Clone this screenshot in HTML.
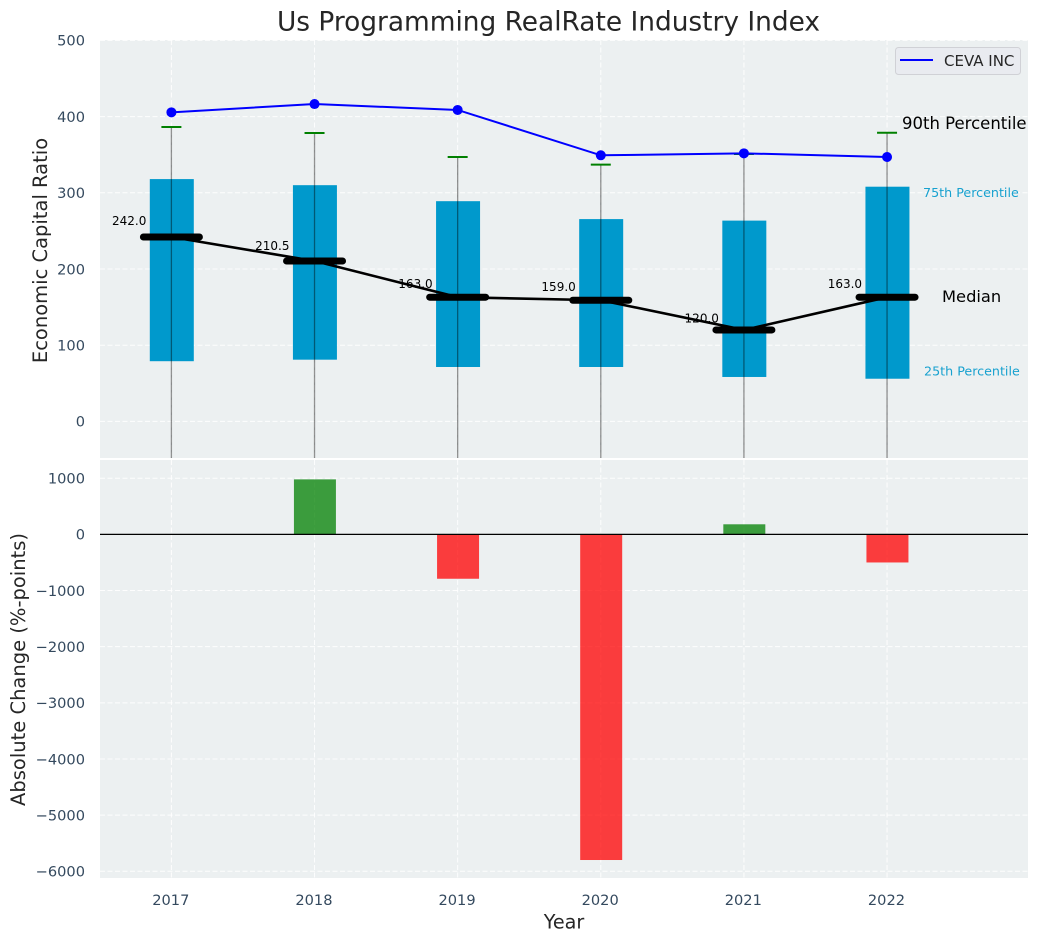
<!DOCTYPE html>
<html lang="en">
<head>
<meta charset="utf-8">
<title>Us Programming RealRate Industry Index</title>
<style>
  html, body { margin: 0; padding: 0; background: #ffffff; }
  svg { display: block; font-family: "DejaVu Sans", "Liberation Sans", sans-serif; }
</style>
</head>
<body>
<svg id="chart" xmlns="http://www.w3.org/2000/svg" width="1039" height="942" viewBox="0 0 1039 942">
  <defs>
    <clipPath id="clip-top"><rect x="100" y="40" width="928" height="418"></rect></clipPath>
    <clipPath id="clip-bottom"><rect x="100" y="460" width="928" height="418"></rect></clipPath>
  </defs>
  <rect x="100" y="40" width="928" height="418" fill="#ecf0f1"></rect>
  <rect x="100" y="460" width="928" height="418" fill="#ecf0f1"></rect>
  <g id="top-grid"></g>
  <g id="bottom-grid"></g>
  <g id="top-marks" clip-path="url(#clip-top)"></g>
  <g id="bottom-marks" clip-path="url(#clip-bottom)"></g>
  <g id="tick-labels"></g>
  <g id="annotations"></g>
  <text x="548.5" y="30.5" text-anchor="middle" font-size="26.4" fill="#262626">Us Programming RealRate Industry Index</text>
  <text transform="translate(47,250.5) rotate(-90)" text-anchor="middle" font-size="19.5" fill="#262626">Economic Capital Ratio</text>
  <text transform="translate(25,669.5) rotate(-90)" text-anchor="middle" font-size="19.5" fill="#262626">Absolute Change (%-points)</text>
  <text x="564" y="928.5" text-anchor="middle" font-size="19.2" fill="#262626">Year</text>
  <g>
    <rect x="895.5" y="47.5" width="125" height="27" rx="3" fill="#e9ebf0" stroke="#d0d1d6" stroke-width="1"></rect>
    <line x1="900" x2="933" y1="60" y2="60" stroke="#0000ff" stroke-width="2"></line>
    <text x="944" y="66" font-size="15" fill="#262626">CEVA INC</text>
  </g>
</svg>
<script>
const years = [2017, 2018, 2019, 2020, 2021, 2022];
const p10 = [-60, -60, -60, -60, -60, -60];
const p25 = [79, 81, 71.4, 71.4, 58.3, 56];
const median = [242.0, 210.5, 163.0, 159.0, 120.0, 163.0];
const p75 = [318, 310, 289, 265.5, 263.5, 308];
const p90 = [386.4, 378.5, 347, 337, 351, 378.8];
const cevaInc = [405.6, 416.5, 408.7, 349.2, 351.8, 347];
const absoluteChange = [0, 980, -790, -5800, 180, -500];
const topTicks = [0, 100, 200, 300, 400, 500];
const bottomTicks = [1000, 0, -1000, -2000, -3000, -4000, -5000, -6000];

const NS = 'http://www.w3.org/2000/svg';
const x = function (year) { return 171.4 + (year - 2017) * 143.13; };
const yTop = function (v) { return 421.4 - v * 0.762; };
const yBottom = function (v) { return 534.4 - v * 0.05614; };

function mk(tag, attrs, parent) {
  const el = document.createElementNS(NS, tag);
  Object.keys(attrs).forEach(function (k) { el.setAttribute(k, attrs[k]); });
  parent.appendChild(el);
  return el;
}

const topGrid = document.getElementById('top-grid');
const bottomGrid = document.getElementById('bottom-grid');
const topMarks = document.getElementById('top-marks');
const bottomMarks = document.getElementById('bottom-marks');
const tickLabels = document.getElementById('tick-labels');
const annotations = document.getElementById('annotations');
const gridStyle = { stroke: '#ffffff', 'stroke-width': 1, 'stroke-dasharray': '5 2.5', opacity: 0.9 };

topTicks.forEach(function (t) {
  const g = mk('line', Object.assign({ x1: 100, x2: 1028, y1: yTop(t), y2: yTop(t) }, gridStyle), topGrid);
  
  
  const label = mk('text', { x: 85, y: yTop(t) + 5.3, 'text-anchor': 'end', 'font-size': 14.6, fill: '#34495e' }, tickLabels);
  
  
  label.textContent = String(t);
});

bottomTicks.forEach(function (t) {
  const g = mk('line', Object.assign({ x1: 100, x2: 1028, y1: yBottom(t), y2: yBottom(t) }, gridStyle), bottomGrid);
  
  
  const label = mk('text', { x: 85, y: yBottom(t) + 5.3, 'text-anchor': 'end', 'font-size': 14.6, fill: '#34495e' }, tickLabels);
  
  
  label.textContent = String(t).replace('-', '\u2212');
});

years.forEach(function (yr) {
  const a = mk('line', Object.assign({ x1: x(yr), x2: x(yr), y1: 40, y2: 458 }, gridStyle), topGrid);
  
  
  const b = mk('line', Object.assign({ x1: x(yr), x2: x(yr), y1: 460, y2: 878 }, gridStyle), bottomGrid);
  
  
  const label = mk('text', { x: x(yr) - 0.6, y: 905, 'text-anchor': 'middle', 'font-size': 14.6, fill: '#34495e' }, tickLabels);
  
  
  label.textContent = String(yr);
});

years.forEach(function (yr, i) {
  const box = mk('rect', {
    x: x(yr) - 21.6,
    y: yTop(p75[i]),
    width: 44,
    height: yTop(p25[i]) - yTop(p75[i]),
    fill: '#0099cc'
  }, topMarks);
  
  
});

years.forEach(function (yr, i) {
  const whisker = mk('line', {
    x1: x(yr), x2: x(yr), y1: yTop(p90[i]), y2: yTop(p10[i]),
    stroke: '#000000', 'stroke-width': 1.3, opacity: 0.42
  }, topMarks);
  
  
  const cap = mk('line', {
    x1: x(yr) - 10, x2: x(yr) + 10, y1: yTop(p90[i]), y2: yTop(p90[i]),
    stroke: '#008000', 'stroke-width': 2
  }, topMarks);
  
  
});

const medianLine = mk('polyline', {
  points: years.map(function (yr, i) { return x(yr) + ',' + yTop(median[i]); }).join(' '),
  fill: 'none', stroke: '#000000', 'stroke-width': 2.6
}, topMarks);



years.forEach(function (yr, i) {
  const bar = mk('line', {
    x1: x(yr) - 28, x2: x(yr) + 28, y1: yTop(median[i]), y2: yTop(median[i]),
    stroke: '#000000', 'stroke-width': 7, 'stroke-linecap': 'round'
  }, topMarks);
  
  
  const label = mk('text', {
    x: x(yr) - 25, y: yTop(median[i] * 1.05) - 3, 'text-anchor': 'end', 'font-size': 12, fill: '#000000'
  }, topMarks);
  
  
  label.textContent = median[i].toFixed(1);
});

const cevaLine = mk('polyline', {
  points: years.map(function (yr, i) { return x(yr) + ',' + yTop(cevaInc[i]); }).join(' '),
  fill: 'none', stroke: '#0000ff', 'stroke-width': 2
}, topMarks);



years.forEach(function (yr, i) {
  const dot = mk('circle', { cx: x(yr), cy: yTop(cevaInc[i]), r: 5, fill: '#0000ff' }, topMarks);
  
  
});

years.forEach(function (yr, i) {
  if (absoluteChange[i] === 0) { return; }
  const v = absoluteChange[i];
  const bar = mk('rect', {
    x: x(yr) - 20.6,
    y: Math.min(yBottom(v), yBottom(0)),
    width: 42,
    height: Math.abs(yBottom(v) - yBottom(0)),
    fill: v > 0 ? '#008000' : '#ff0000',
    opacity: 0.75
  }, bottomMarks);
  
  
});

const zeroLine = mk('line', { x1: 100, x2: 1028, y1: yBottom(0), y2: yBottom(0), stroke: '#000000', 'stroke-width': 1.2 }, bottomMarks);



const last = years.length - 1;
const ann90 = mk('text', { x: 902, y: yTop(p90[last]) - 3.7, 'font-size': 16.5, fill: '#000000' }, annotations);


ann90.textContent = '90th Percentile';
const ann75 = mk('text', { x: 923, y: yTop(p75[last]) + 10.5, 'font-size': 12.7, fill: '#0099cc', opacity: 0.9 }, annotations);


ann75.textContent = '75th Percentile';
const annMedian = mk('text', { x: 942, y: yTop(median[last]) + 4.8, 'font-size': 16.3, fill: '#000000' }, annotations);


annMedian.textContent = 'Median';
const ann25 = mk('text', { x: 924, y: yTop(p25[last]) - 3.2, 'font-size': 12.7, fill: '#0099cc', opacity: 0.9 }, annotations);


ann25.textContent = '25th Percentile';
</script>
</body>
</html>
